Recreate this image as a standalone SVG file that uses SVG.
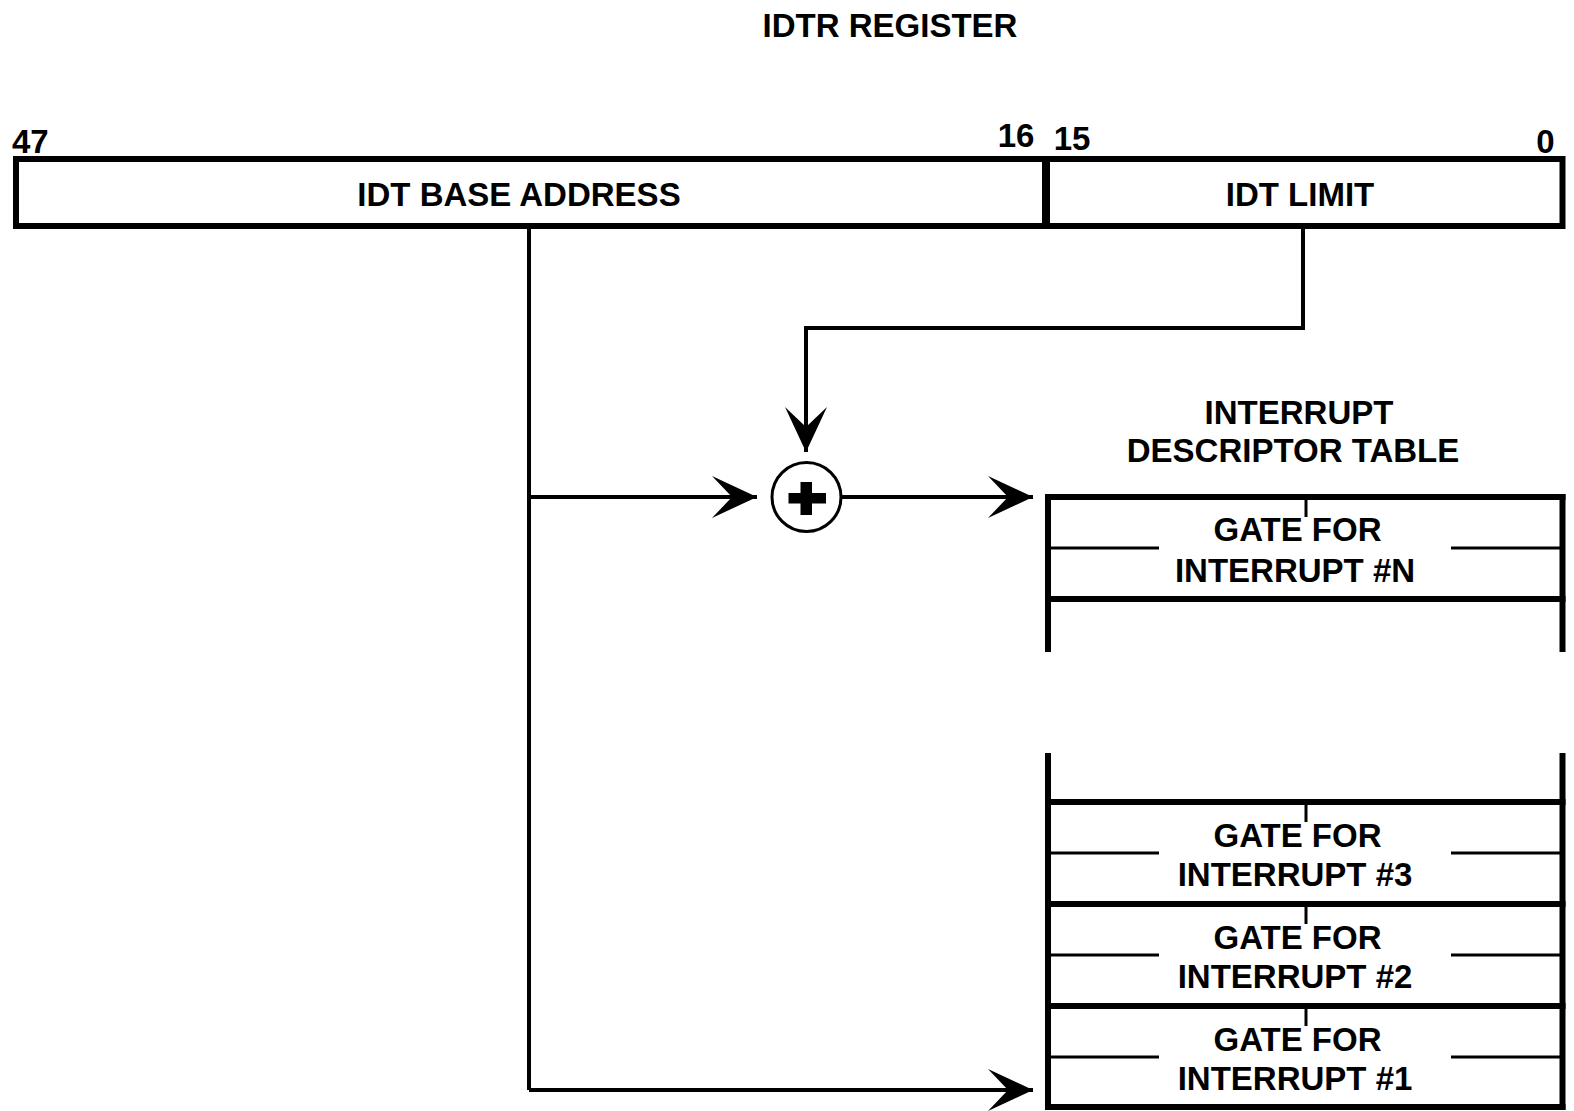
<svg xmlns="http://www.w3.org/2000/svg" width="1574" height="1111" viewBox="0 0 1574 1111">
<style>
  text { font-family: "Liberation Sans", Arial, sans-serif; font-size: 33px; font-weight: bold; fill: #000; }
  .mid { text-anchor: middle; }
  .thick { stroke: #000; stroke-width: 6; fill: none; }
  .thin { stroke: #000; stroke-width: 3; fill: none; }
  .conn { stroke: #000; stroke-width: 4; fill: none; }
</style>
<defs>
  <marker id="arrow" markerUnits="userSpaceOnUse" viewBox="-46 -23 47 46" refX="0" refY="0" markerWidth="47" markerHeight="46" orient="auto" overflow="visible">
    <path d="M0,0 L-45,-21 L-25,0 L-45,21 Z" fill="#000"/>
  </marker>
</defs>
<rect width="1574" height="1111" fill="#fff"/>

<text id="title" class="mid" x="890" y="37">IDTR REGISTER</text>

<g id="idtr-register">
  <rect class="thick" x="16" y="159" width="1546.5" height="67"/>
  <line class="thick" x1="1046" y1="159" x2="1046" y2="226" style="stroke-width:8"/>
  <text x="12" y="153">47</text>
  <text class="mid" x="1016" y="147">16</text>
  <text class="mid" x="1072" y="150">15</text>
  <text class="mid" x="1545.5" y="153">0</text>
  <text class="mid" x="519" y="206">IDT BASE ADDRESS</text>
  <text class="mid" x="1300" y="206">IDT LIMIT</text>
</g>

<g id="adder">
  <circle cx="806.5" cy="497" r="34.5" fill="#fff" stroke="#000" stroke-width="3"/>
  <rect x="788.5" y="493" width="37.5" height="10.5" fill="#000"/>
  <rect x="800.5" y="482" width="11.5" height="33" fill="#000"/>
</g>

<g id="idt-label">
  <text class="mid" x="1299" y="424">INTERRUPT</text>
  <text class="mid" x="1293" y="462">DESCRIPTOR TABLE</text>
</g>

<g id="idt-top">
  <line class="thick" x1="1048" y1="494" x2="1048" y2="652"/>
  <line class="thick" x1="1562.5" y1="494" x2="1562.5" y2="652"/>
  <line class="thick" x1="1045" y1="497" x2="1565.5" y2="497"/>
</g>

<g id="gate-n">
  <line class="thick" x1="1045" y1="599" x2="1565.5" y2="599"/>
  <line class="thin" x1="1306" y1="497" x2="1306" y2="517"/>
  <line class="thin" x1="1048" y1="548" x2="1159" y2="548"/>
  <line class="thin" x1="1451" y1="548" x2="1562.5" y2="548"/>
  <text class="mid" x="1297.5" y="541">GATE FOR</text>
  <text class="mid" x="1295" y="582">INTERRUPT #N</text>
</g>

<g id="idt-bottom">
  <line class="thick" x1="1048" y1="753" x2="1048" y2="1110"/>
  <line class="thick" x1="1562.5" y1="753" x2="1562.5" y2="1110"/>
</g>

<g id="gate-3">
  <line class="thick" x1="1045" y1="802" x2="1565.5" y2="802"/>
  <line class="thin" x1="1306" y1="802" x2="1306" y2="822"/>
  <line class="thin" x1="1048" y1="853" x2="1159" y2="853"/>
  <line class="thin" x1="1451" y1="853" x2="1562.5" y2="853"/>
  <text class="mid" x="1297.5" y="847">GATE FOR</text>
  <text class="mid" x="1295" y="886">INTERRUPT #3</text>
</g>

<g id="gate-2">
  <line class="thick" x1="1045" y1="904" x2="1565.5" y2="904"/>
  <line class="thin" x1="1306" y1="904" x2="1306" y2="924"/>
  <line class="thin" x1="1048" y1="955" x2="1159" y2="955"/>
  <line class="thin" x1="1451" y1="955" x2="1562.5" y2="955"/>
  <text class="mid" x="1297.5" y="949">GATE FOR</text>
  <text class="mid" x="1295" y="988">INTERRUPT #2</text>
</g>

<g id="gate-1">
  <line class="thick" x1="1045" y1="1006" x2="1565.5" y2="1006"/>
  <line class="thin" x1="1306" y1="1006" x2="1306" y2="1026"/>
  <line class="thin" x1="1048" y1="1057" x2="1159" y2="1057"/>
  <line class="thin" x1="1451" y1="1057" x2="1562.5" y2="1057"/>
  <text class="mid" x="1297.5" y="1051">GATE FOR</text>
  <text class="mid" x="1295" y="1090">INTERRUPT #1</text>
  <line class="thick" x1="1045" y1="1107" x2="1565.5" y2="1107"/>
</g>

<g id="connectors">
  <polyline class="conn" points="1303,229 1303,328 806,328 806,452" marker-end="url(#arrow)"/>
  <line class="conn" x1="529" y1="229" x2="529" y2="1090"/>
  <line class="conn" x1="529" y1="497" x2="757" y2="497" marker-end="url(#arrow)"/>
  <line class="conn" x1="841" y1="497" x2="1033" y2="497" marker-end="url(#arrow)"/>
  <polyline class="conn" points="529,1090 1033,1090" marker-end="url(#arrow)"/>
</g>
</svg>
